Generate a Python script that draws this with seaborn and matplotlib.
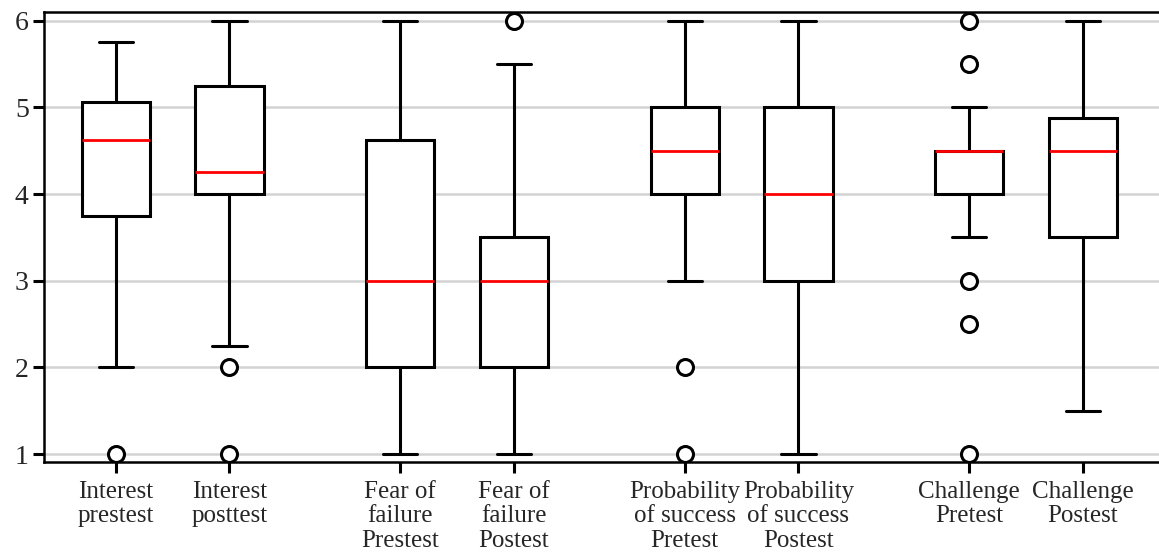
import matplotlib
matplotlib.use("Agg")
import matplotlib.pyplot as plt
import seaborn as sns

sns.set_style("white")
plt.rcParams['font.family'] = ['Liberation Serif', 'DejaVu Serif']

# box statistics
labels = ["Interest\nprestest", "Interest\nposttest",
          "Fear of\nfailure\nPrestest", "Fear of\nfailure\nPostest",
          "Probability\nof success\nPretest", "Probability\nof success\nPostest",
          "Challenge\nPretest", "Challenge\nPostest"]
positions = [1, 2, 3.5, 4.5, 6, 7, 8.5, 9.5]
whislo = [2, 2.25, 1, 1, 3, 1, 3.5, 1.5]
q1 = [3.75, 4, 2, 2, 4, 3, 4, 3.5]
medians = [4.625, 4.25, 3, 3, 4.5, 4, 4.5, 4.5]
q3 = [5.06, 5.25, 4.625, 3.5, 5, 5, 4.5, 4.875]
whishi = [5.75, 6, 6, 5.5, 6, 6, 5, 6]
fliers = [[1], [2, 1], [], [6], [2, 1], [], [6, 5.5, 3, 2.5, 1], []]

stats = []
for i in range(len(labels)):
    stats.append(dict(label=labels[i], whislo=whislo[i], q1=q1[i], med=medians[i],
                      q3=q3[i], whishi=whishi[i], fliers=fliers[i]))

fig = plt.figure(figsize=(11.59, 5.54), dpi=100)
ax = fig.add_axes([44/1159, 1-462/554, 1130/1159, 450/554])

lw = 2.2
ax.bxp(stats, positions=positions, widths=0.6, patch_artist=True,
       boxprops=dict(facecolor="white", edgecolor="black", linewidth=lw),
       whiskerprops=dict(color="black", linewidth=lw),
       capprops=dict(color="black", linewidth=lw),
       medianprops=dict(color="red", linewidth=2.0),
       flierprops=dict(marker="o", markersize=11.5, markerfacecolor="white",
                       markeredgecolor="black", markeredgewidth=2.2),
       zorder=3)

ax.set_xlim(0.37, 10.3)
ax.set_ylim(0.91, 6.1)
ax.set_yticks([1, 2, 3, 4, 5, 6])
ax.yaxis.grid(True, color="#d3d3d3", linewidth=1.8, zorder=0)
ax.set_axisbelow(True)
for s in ax.spines.values():
    s.set_linewidth(1.8)
    s.set_color("black")
ax.tick_params(axis="both", which="major", bottom=True, left=True,
               direction="out", length=8, width=2.2, color="black", pad=4)
ax.tick_params(axis="x", labelsize=18, pad=6)
ax.tick_params(axis="y", labelsize=20, pad=3)
for t in ax.get_xticklabels():
    t.set_linespacing(1.12)

fig.savefig("out.png", dpi=100)
